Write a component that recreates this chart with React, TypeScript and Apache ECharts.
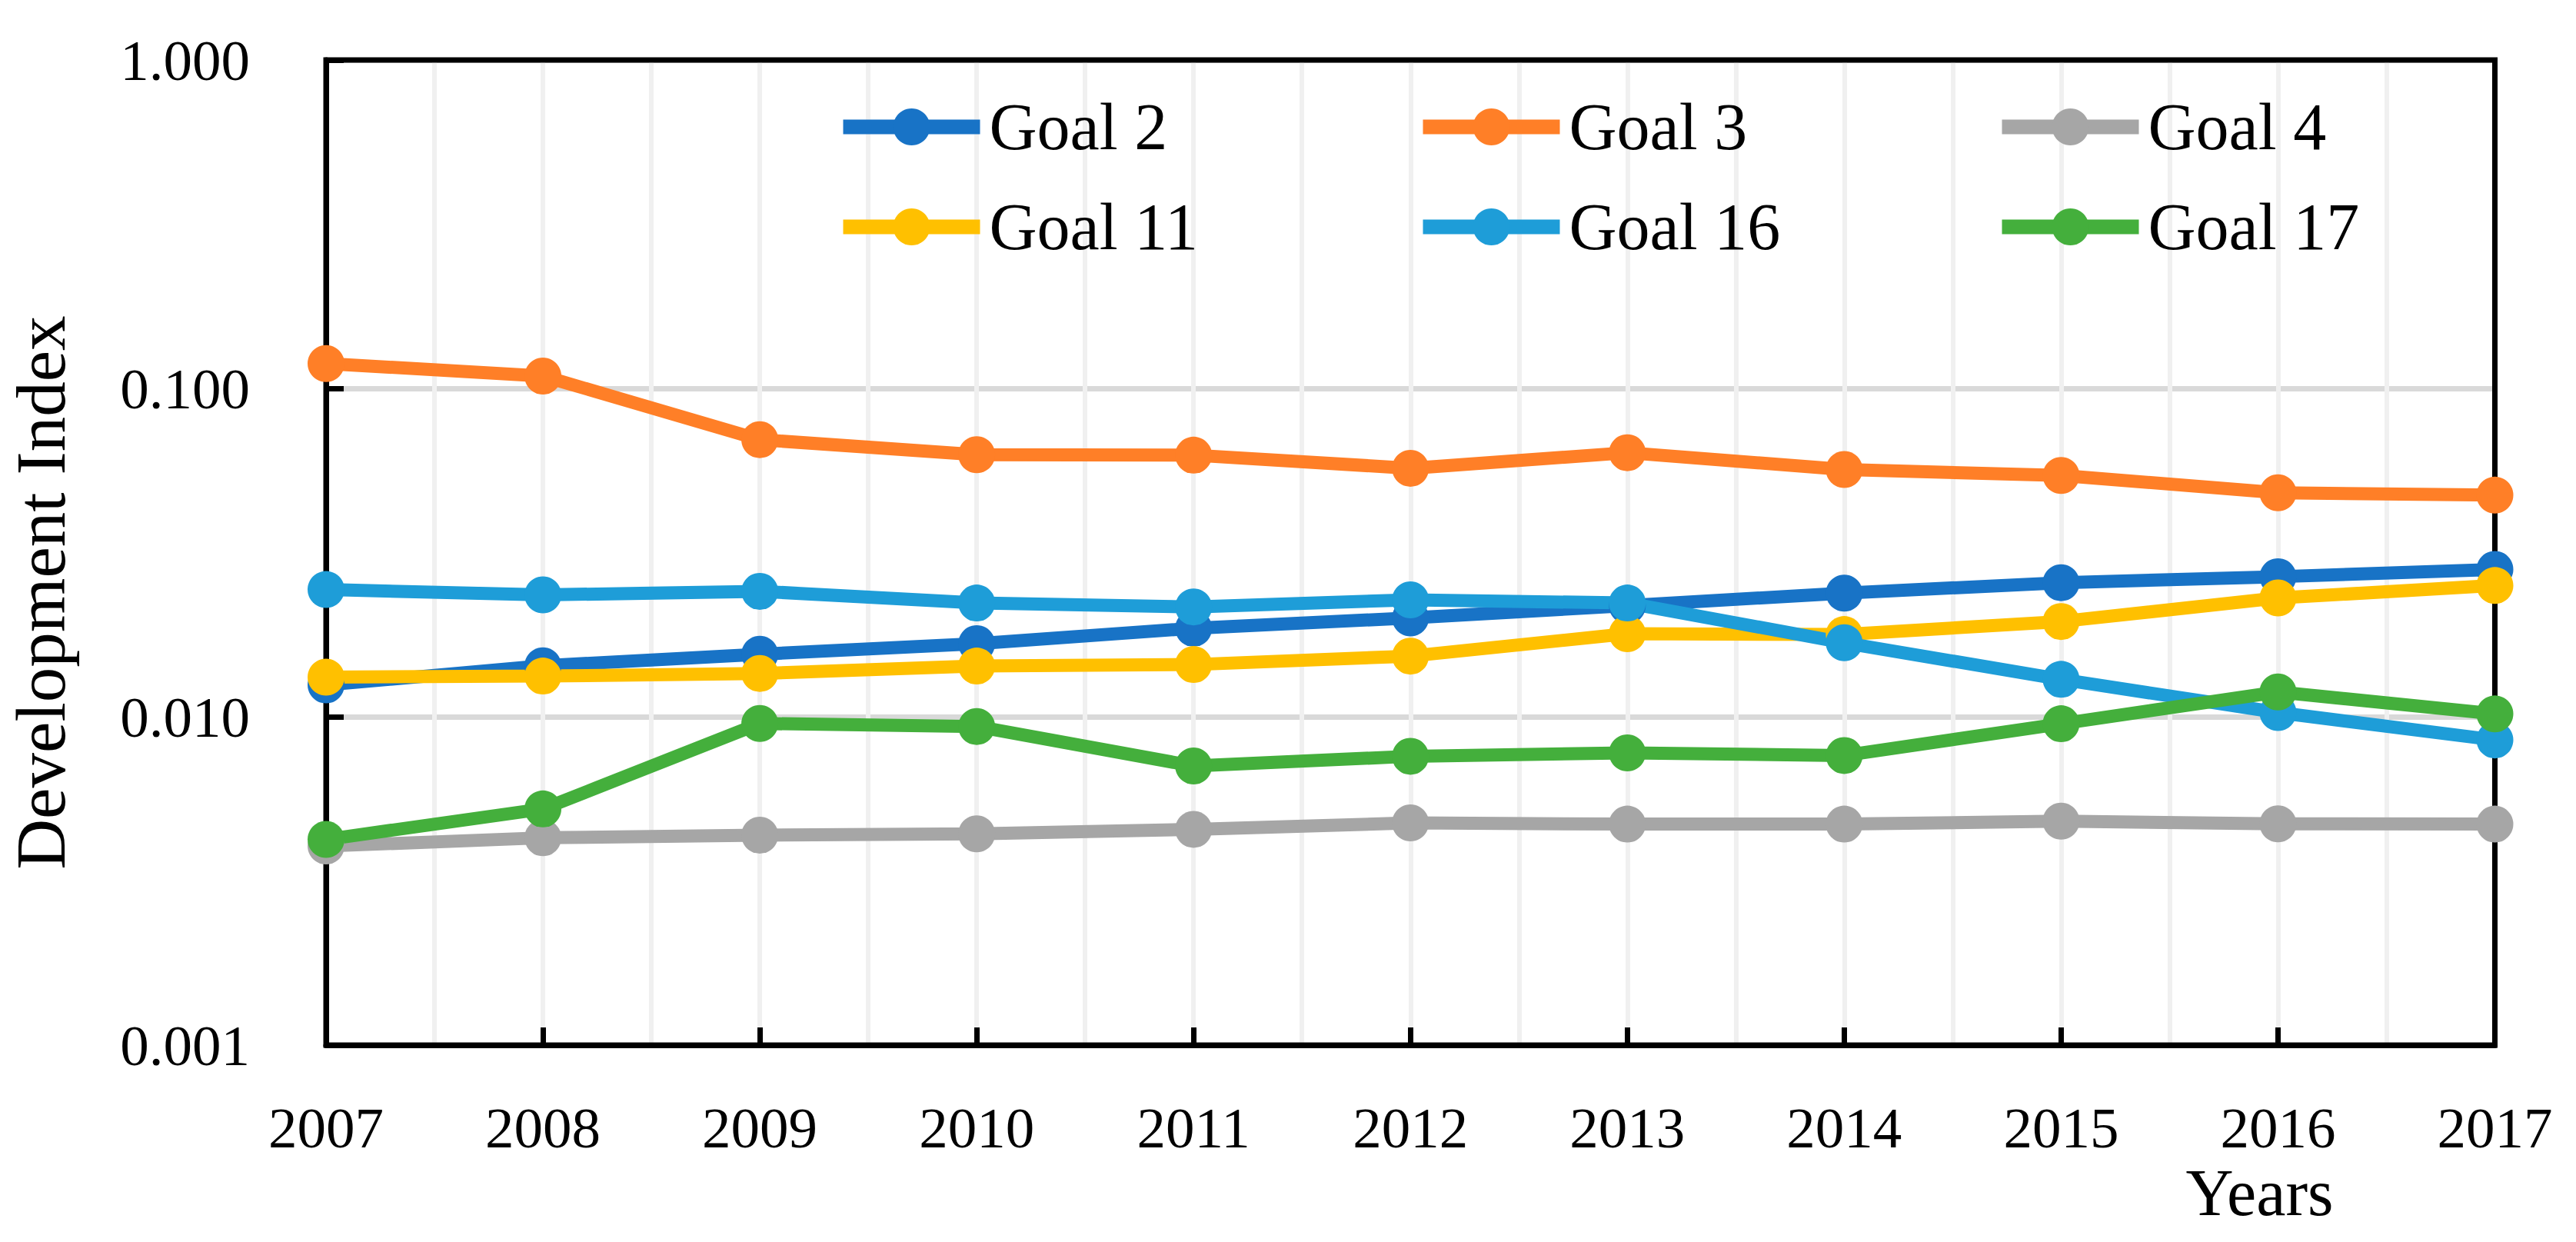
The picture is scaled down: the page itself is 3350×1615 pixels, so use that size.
import React, { useEffect, useRef } from 'react';
import * as echarts from 'echarts';

const years = [2007, 2008, 2009, 2010, 2011, 2012, 2013, 2014, 2015, 2016, 2017];
const goal2 = [0.0125, 0.0143, 0.0155, 0.0167, 0.0186, 0.0200, 0.0218, 0.0238, 0.0256, 0.0267, 0.0281];
const goal3 = [0.119, 0.109, 0.0698, 0.0628, 0.0626, 0.0571, 0.0637, 0.0566, 0.0543, 0.0481, 0.0473];
const goal4 = [0.00404, 0.00428, 0.00436, 0.0044, 0.00454, 0.00475, 0.00471, 0.00471, 0.00481, 0.00472, 0.00471];
const goal11 = [0.0132, 0.0133, 0.01355, 0.01427, 0.01442, 0.0153, 0.0179, 0.0178, 0.0195, 0.0230, 0.0251];
const goal16 = [0.0244, 0.0235, 0.0241, 0.0222, 0.0216, 0.0227, 0.0222, 0.0168, 0.0130, 0.0103, 0.0085];
const goal17 = [0.00423, 0.00524, 0.00954, 0.00934, 0.00708, 0.00758, 0.00776, 0.00762, 0.00952, 0.0119, 0.0102];

const seriesNames = ['Goal 2', 'Goal 3', 'Goal 4', 'Goal 11', 'Goal 16', 'Goal 17'];
const seriesValues = [goal2, goal3, goal4, goal11, goal16, goal17];
const seriesColors = ['#1873C6', '#FF7F27', '#A6A6A6', '#FFC000', '#1E9DD8', '#44AF3C'];

const xAxisName = 'Years';
const yAxisName = 'Development Index';

export default function App() {
  const ref = useRef<HTMLDivElement>(null);
  useEffect(() => {
    document.body.style.margin = '0';
    const chart = echarts.init(ref.current as HTMLDivElement, null, { renderer: 'svg' });
    const font = 'Liberation Serif';
    const W = 3350;
    const H = 1615;
    const gl = 424;
    const gt = 78;
    const gr = 105.5;
    const gb = 256;
    const legendCols = [[0, 3], [1, 4], [2, 5]];
    const legendLefts = [1082, 1836, 2589];

    chart.setOption({
      animation: false,
      backgroundColor: '#fff',
      grid: { left: gl, top: gt, right: gr, bottom: gb, outerBoundsMode: 'none' },
      legend: legendCols.map((idx, c) => ({
        orient: 'vertical',
        left: legendLefts[c],
        top: 117,
        itemWidth: 178,
        itemHeight: 60,
        itemGap: 44,
        selectedMode: false,
        data: idx.map((i) => seriesNames[i]),
        lineStyle: { width: 19 },
        textStyle: { fontFamily: font, fontSize: 86, color: '#000', lineHeight: 86, padding: [0, 0, 0, 7] },
      })),
      xAxis: {
        type: 'value',
        min: 2007,
        max: 2017,
        interval: 1,
        axisLine: { show: true, onZero: false, lineStyle: { color: '#000', width: 7 } },
        axisTick: { show: true, inside: true, length: 23, lineStyle: { color: '#000', width: 7 } },
        axisLabel: {
          margin: 70,
          fontFamily: font,
          fontSize: 75,
          color: '#000',
          formatter: (v: number) => String(Math.round(v)),
        },
        splitLine: { show: true, lineStyle: { color: '#F0F0F0', width: 6 } },
        minorTick: { show: false, splitNumber: 2 },
        minorSplitLine: { show: true, lineStyle: { color: '#F0F0F0', width: 6 } },
        name: xAxisName,
        nameLocation: 'end',
        nameGap: -210,
        nameMoveOverlap: false,
        nameTextStyle: {
          fontFamily: font,
          fontSize: 86,
          color: '#000',
          align: 'right',
          verticalAlign: 'top',
          lineHeight: 86,
          padding: [149, 0, 0, 0],
        },
      },
      yAxis: {
        type: 'log',
        logBase: 10,
        min: 0.001,
        max: 1,
        axisLine: { show: true, lineStyle: { color: '#000', width: 7 } },
        axisTick: { show: true, inside: true, length: 23, lineStyle: { color: '#000', width: 7 } },
        axisLabel: {
          margin: 99,
          fontFamily: font,
          fontSize: 75,
          color: '#000',
          formatter: (v: number) => v.toFixed(3),
        },
        splitLine: { show: true, lineStyle: { color: '#D9D9D9', width: 7 } },
        name: yAxisName,
        nameLocation: 'middle',
        nameGap: 371,
        nameMoveOverlap: false,
        nameTextStyle: {
          fontFamily: font,
          fontSize: 91,
          color: '#000',
          verticalAlign: 'middle',
          lineHeight: 91,
          padding: [0, 104, 0, 0],
        },
      },
      graphic: [
        {
          type: 'rect',
          silent: true,
          z: 1,
          shape: { x: gl, y: gt, width: W - gl - gr, height: H - gt - gb },
          style: { fill: 'none', stroke: '#000', lineWidth: 7 },
        },
      ],
      series: seriesValues.map((vals, i) => ({
        name: seriesNames[i],
        type: 'line',
        data: years.map((y, j) => [y, vals[j]]),
        symbol: 'circle',
        symbolSize: 48,
        clip: false,
        z: 2,
        lineStyle: { width: 17, color: seriesColors[i] },
        itemStyle: { color: seriesColors[i] },
        emphasis: { disabled: true },
      })),
    });
    return () => chart.dispose();
  }, []);
  return <div ref={ref} style={{ width: 3350, height: 1615 }} />;
}
